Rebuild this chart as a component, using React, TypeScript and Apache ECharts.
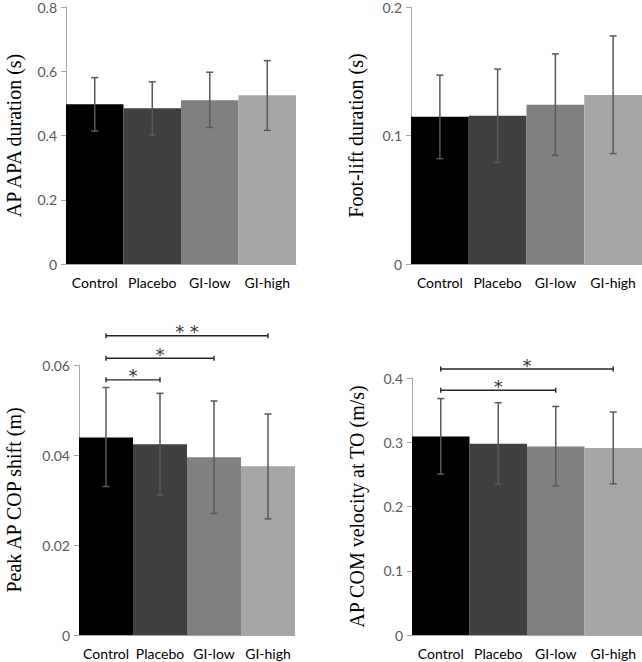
import React, { useEffect, useRef } from 'react';
import * as echarts from 'echarts';

const categories = ['Control', 'Placebo', 'GI-low', 'GI-high'];
const barColors = ['#000000', '#404040', '#808080', '#a6a6a6'];

// AP APA duration (s)
const apaMean = [0.497, 0.485, 0.51, 0.525];
const apaLow = [0.414, 0.401, 0.425, 0.416];
const apaHigh = [0.58, 0.567, 0.597, 0.633];

// Foot-lift duration (s)
const footMean = [0.1146, 0.1154, 0.124, 0.1315];
const footLow = [0.082, 0.079, 0.0846, 0.0859];
const footHigh = [0.147, 0.1517, 0.1635, 0.1775];

// Peak AP COP shift (m)
const copMean = [0.0439, 0.0424, 0.0395, 0.0375];
const copLow = [0.033, 0.0311, 0.027, 0.0258];
const copHigh = [0.055, 0.0537, 0.052, 0.0491];

// AP COM velocity at TO (m/s)
const comMean = [0.309, 0.2977, 0.2934, 0.291];
const comLow = [0.2504, 0.2353, 0.2322, 0.2353];
const comHigh = [0.368, 0.3615, 0.3557, 0.347];

// significance brackets: [from, to, y]
const copBrackets = [
  [0, 1, 0.0567],
  [0, 2, 0.0615],
  [0, 3, 0.0665],
];
const copStars = ['*', '*', '* *'];
const comBrackets = [
  [0, 2, 0.381],
  [0, 3, 0.414],
];
const comStars = ['*', '*'];

const tickFont = 'Lato, "Open Sans", sans-serif';
const titleFont = '"Liberation Serif", "DejaVu Serif", serif';

function panel(i: number, name: string, max: number, interval: number, nameGap: number) {
  return {
    x: {
      type: 'category',
      gridIndex: i,
      data: categories,
      axisLine: { show: true, lineStyle: { color: '#a6a6a6', width: 1 } },
      axisTick: { show: false },
      axisLabel: { color: '#000', fontSize: 14, fontFamily: tickFont, margin: 11, interval: 0 },
    },
    y: {
      type: 'value',
      gridIndex: i,
      min: 0,
      max,
      interval,
      name,
      nameLocation: 'middle',
      nameGap,
      nameTextStyle: { fontFamily: titleFont, fontSize: 20, color: '#000' },
      axisLine: { show: true, lineStyle: { color: '#a6a6a6', width: 1 } },
      axisTick: { show: true, length: 5, lineStyle: { color: '#a6a6a6' } },
      splitLine: { show: false },
      axisLabel: { color: '#595959', fontSize: 14, fontFamily: tickFont, margin: 9 },
    },
  };
}

function barSeries(i: number, mean: number[]) {
  return {
    type: 'bar',
    xAxisIndex: i,
    yAxisIndex: i,
    barCategoryGap: 0,
    data: mean.map((v, k) => ({ value: v, itemStyle: { color: barColors[k] } })),
  };
}

function errSeries(i: number, low: number[], high: number[]) {
  return {
    type: 'custom',
    xAxisIndex: i,
    yAxisIndex: i,
    z: 5,
    encode: { x: 0, y: [1, 2] },
    data: low.map((l, k) => [k, l, high[k]]),
    renderItem: (params: any, api: any) => {
      const idx = api.value(0);
      const lo = api.coord([idx, api.value(1)]);
      const hi = api.coord([idx, api.value(2)]);
      const half = 3.5;
      const style = { stroke: '#595959', lineWidth: 1.5 };
      return {
        type: 'group',
        children: [
          { type: 'line', shape: { x1: hi[0], y1: hi[1], x2: lo[0], y2: lo[1] }, style },
          { type: 'line', shape: { x1: hi[0] - half, y1: hi[1], x2: hi[0] + half, y2: hi[1] }, style },
          { type: 'line', shape: { x1: lo[0] - half, y1: lo[1], x2: lo[0] + half, y2: lo[1] }, style },
        ],
      };
    },
  };
}

function bracketSeries(i: number, brackets: number[][], stars: string[]) {
  return {
    type: 'custom',
    xAxisIndex: i,
    yAxisIndex: i,
    z: 6,
    clip: false,
    encode: { x: [0, 1], y: 2 },
    data: brackets,
    renderItem: (params: any, api: any) => {
      const a = api.coord([api.value(0), api.value(2)]);
      const b = api.coord([api.value(1), api.value(2)]);
      const style = { stroke: '#262626', lineWidth: 1.4 };
      return {
        type: 'group',
        children: [
          { type: 'line', shape: { x1: a[0], y1: a[1], x2: b[0], y2: b[1] }, style },
          { type: 'line', shape: { x1: a[0], y1: a[1] - 2.5, x2: a[0], y2: a[1] + 2.5 }, style },
          { type: 'line', shape: { x1: b[0], y1: b[1] - 2.5, x2: b[0], y2: b[1] + 2.5 }, style },
          {
            type: 'text',
            x: (a[0] + b[0]) / 2,
            y: a[1] - 4,
            style: {
              text: stars[params.dataIndex],
              fill: '#333333',
              font: '18px "DejaVu Sans", sans-serif',
              align: 'center',
              verticalAlign: 'middle',
            },
          },
        ],
      };
    },
  };
}

export default function App() {
  const ref = useRef<HTMLDivElement>(null);

  useEffect(() => {
    if (!ref.current) return;
    const chart = echarts.init(ref.current, null, { renderer: 'svg' });
    const p0 = panel(0, 'AP APA duration (s)', 0.8, 0.2, 42);
    const p1 = panel(1, 'Foot-lift duration (s)', 0.2, 0.1, 45);
    const p2 = panel(2, 'Peak AP COP shift (m)', 0.06, 0.02, 55);
    const p3 = panel(3, 'AP COM velocity at TO (m/s)', 0.4, 0.1, 45);
    chart.setOption({
      animation: false,
      backgroundColor: '#ffffff',
      grid: [
        { left: 66, top: 7, width: 230, height: 257, outerBoundsMode: 'none' },
        { left: 411, top: 7, width: 231, height: 257, outerBoundsMode: 'none' },
        { left: 79, top: 365, width: 216, height: 270, outerBoundsMode: 'none' },
        { left: 412, top: 378, width: 230, height: 257, outerBoundsMode: 'none' },
      ],
      xAxis: [p0.x, p1.x, p2.x, p3.x],
      yAxis: [p0.y, p1.y, p2.y, p3.y],
      series: [
        barSeries(0, apaMean),
        errSeries(0, apaLow, apaHigh),
        barSeries(1, footMean),
        errSeries(1, footLow, footHigh),
        barSeries(2, copMean),
        errSeries(2, copLow, copHigh),
        bracketSeries(2, copBrackets, copStars),
        barSeries(3, comMean),
        errSeries(3, comLow, comHigh),
        bracketSeries(3, comBrackets, comStars),
      ],
    });
    return () => chart.dispose();
  }, []);

  return (
    <div
      ref={ref}
      style={{ position: 'absolute', left: 0, top: 0, width: 642, height: 662 }}
    />
  );
}
